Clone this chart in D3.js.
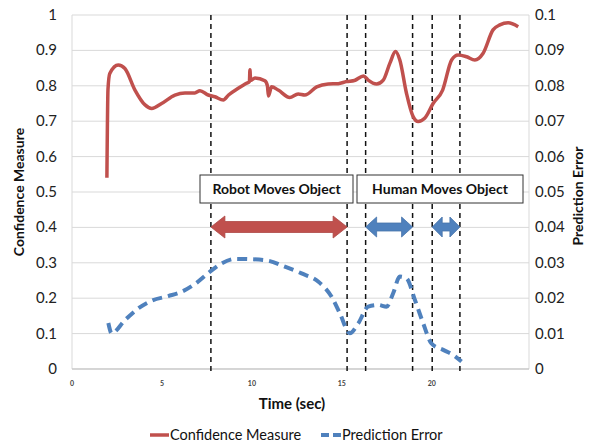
<!DOCTYPE html>
<html><head><meta charset="utf-8">
<script src="https://cdn.jsdelivr.net/npm/d3@7"></script>
<style>body{margin:0;background:#fff}svg{display:block;font-family:Lato,"Open Sans",sans-serif}</style>
</head><body><svg id="c" width="595" height="446"></svg>
<script>
// Confidence Measure (left axis)
const confT = [1.94,2.0,2.1,2.57,2.94,3.5,4.06,4.43,4.98,5.72,6.28,6.83,7.11,7.57,7.94,8.41,8.7,9.24,9.7,9.86,9.89,9.93,10.17,10.72,10.86,10.92,11.09,11.46,12.1,12.57,12.94,13.6,14.24,14.8,15.26,15.7,16.2,16.46,16.93,17.3,17.67,17.98,18.22,18.59,18.96,19.24,19.6,20.07,20.6,21.1,21.46,21.93,22.39,22.85,23.4,23.78,24.24,24.8];
const confV = [0.54,0.79,0.835,0.859,0.849,0.788,0.746,0.736,0.75,0.774,0.78,0.78,0.786,0.774,0.769,0.76,0.774,0.793,0.807,0.812,0.845,0.815,0.822,0.814,0.80,0.771,0.797,0.788,0.767,0.777,0.774,0.797,0.805,0.806,0.812,0.815,0.828,0.816,0.805,0.816,0.864,0.897,0.873,0.779,0.713,0.699,0.708,0.75,0.788,0.873,0.887,0.882,0.873,0.892,0.958,0.972,0.978,0.967];
// Prediction Error (right axis)
const errT = [2.02,2.2,2.94,3.68,4.43,5.35,6.09,6.83,7.67,8.31,9.06,9.98,10.9,11.83,12.76,13.68,14.43,14.89,15.44,15.91,16.46,17.02,17.48,17.85,18.22,18.59,19.06,19.52,19.98,20.63,21.18,21.65];
const errV = [0.013,0.0101,0.0138,0.0171,0.0193,0.0206,0.0218,0.024,0.0275,0.0298,0.0311,0.031,0.0306,0.0289,0.027,0.0247,0.0204,0.0157,0.0101,0.0129,0.0176,0.0181,0.0176,0.0214,0.0261,0.0256,0.0195,0.0129,0.0072,0.0054,0.004,0.0021];
// Event markers (sec)
const eventT = [7.72,15.29,16.32,18.93,20.02,21.56];
const leftTicks = [0,0.1,0.2,0.3,0.4,0.5,0.6,0.7,0.8,0.9,1];
const rightTicks = [0,0.01,0.02,0.03,0.04,0.05,0.06,0.07,0.08,0.09,0.1];
const xTicks = [0,5,10,15,20];
const phaseLabels = ["Robot Moves Object","Human Moves Object"];
const seriesNames = ["Confidence Measure","Prediction Error"];

const RED="#c0504d", BLUE="#4f81bd";
const svg=d3.select("#c");
const L=72,R=529,T=15,B=369;
const x=d3.scaleLinear().domain([0,25.4]).range([L,R]);
const yL=d3.scaleLinear().domain([0,1]).range([B,T]);
const yR=d3.scaleLinear().domain([0,0.1]).range([B,T]);

// gridlines
svg.append("g").selectAll("line").data(leftTicks).join("line")
 .attr("x1",L).attr("x2",R).attr("y1",d=>yL(d)).attr("y2",d=>yL(d))
 .attr("stroke","#d9d9d9").attr("stroke-width",1);
// axis lines
svg.append("line").attr("x1",L).attr("x2",L).attr("y1",T).attr("y2",B).attr("stroke","#d9d9d9");
svg.append("line").attr("x1",R).attr("x2",R).attr("y1",T).attr("y2",B).attr("stroke","#d9d9d9");
svg.append("line").attr("x1",L).attr("x2",R).attr("y1",B).attr("y2",B).attr("stroke","#bfbfbf");

// tick labels
const fmt=d=>d===0?"0":(d===1?"1":String(+d.toFixed(2)));
svg.append("g").selectAll("text").data(leftTicks).join("text")
 .attr("x",57).attr("y",d=>yL(d)+5).attr("text-anchor","end")
 .attr("font-size",15).attr("fill","#222").text(fmt);
svg.append("g").selectAll("text").data(rightTicks).join("text")
 .attr("x",535).attr("y",d=>yR(d)+5).attr("text-anchor","start")
 .attr("font-size",15).attr("fill","#222").text(fmt);
svg.append("g").selectAll("text").data(xTicks).join("text")
 .attr("x",d=>x(d)).attr("y",386).attr("text-anchor","middle")
 .attr("font-size",7).attr("font-weight","bold").attr("fill","#444").text(d=>d);

// axis titles
svg.append("text").attr("transform","translate(24,192) rotate(-90)").attr("text-anchor","middle")
 .attr("font-size",14).attr("font-weight","bold").attr("fill","#111").text(seriesNames[0]);
svg.append("text").attr("transform","translate(583,196) rotate(-90)").attr("text-anchor","middle")
 .attr("font-size",14).attr("font-weight","bold").attr("fill","#111").text(seriesNames[1]);
svg.append("text").attr("x",292).attr("y",409).attr("text-anchor","middle")
 .attr("font-size",15).attr("font-weight","bold").attr("fill","#111").text("Time (sec)");

// event dashed lines
svg.append("g").selectAll("line").data(eventT).join("line")
 .attr("x1",d=>x(d)).attr("x2",d=>x(d)).attr("y1",T).attr("y2",B+3)
 .attr("stroke","#111").attr("stroke-width",1.5).attr("stroke-dasharray","5,4");

// phase label boxes
const boxes=[{x0:200,x1:353,label:phaseLabels[0]},{x0:357,x1:523,label:phaseLabels[1]}];
boxes.forEach(b=>{
  svg.append("rect").attr("x",b.x0).attr("y",175).attr("width",b.x1-b.x0).attr("height",28)
   .attr("fill","#fff").attr("stroke","#333").attr("stroke-width",1);
  svg.append("text").attr("x",(b.x0+b.x1)/2).attr("y",194).attr("text-anchor","middle")
   .attr("font-size",14).attr("font-weight","bold").attr("fill","#111").text(b.label);
});

// double arrows
function dblArrow(t0,t1,cy,body,head,hl,color){
  const a=x(t0),b=x(t1),h=body/2,H=head/2;
  const p=[[a,cy],[a+hl,cy-H],[a+hl,cy-h],[b-hl,cy-h],[b-hl,cy-H],[b,cy],[b-hl,cy+H],[b-hl,cy+h],[a+hl,cy+h],[a+hl,cy+H]];
  svg.append("path").attr("d","M"+p.map(q=>q.join(",")).join("L")+"Z").attr("fill",color)
   .attr("stroke",d3.color(color).darker(0.3)).attr("stroke-width",0.8);
}
dblArrow(eventT[0],eventT[1],227,11,22,14,RED);
dblArrow(eventT[2],eventT[3],227,8,20,11,BLUE);
dblArrow(eventT[4],eventT[5],227,8,20,10,BLUE);

// series
const confData=confT.map((t,i)=>[t,confV[i]]);
const errData=errT.map((t,i)=>[t,errV[i]]);
svg.append("path").datum(confData)
 .attr("d",d3.line().x(d=>x(d[0])).y(d=>yL(d[1])).curve(d3.curveMonotoneX))
 .attr("fill","none").attr("stroke",RED).attr("stroke-width",3.5).attr("stroke-linejoin","round");
svg.append("path").datum(errData)
 .attr("d",d3.line().x(d=>x(d[0])).y(d=>yR(d[1])).curve(d3.curveMonotoneX))
 .attr("fill","none").attr("stroke",BLUE).attr("stroke-width",4).attr("stroke-dasharray","10,6");

// legend
const lg=svg.append("g");
lg.append("line").attr("x1",150).attr("x2",169).attr("y1",435).attr("y2",435).attr("stroke",RED).attr("stroke-width",3.5);
lg.append("text").attr("x",170).attr("y",440).attr("font-size",14.5).attr("fill","#111").text(seriesNames[0]);
lg.append("line").attr("x1",321).attr("x2",341).attr("y1",435).attr("y2",435).attr("stroke",BLUE).attr("stroke-width",4).attr("stroke-dasharray","8,4");
lg.append("text").attr("x",342).attr("y",440).attr("font-size",14.5).attr("fill","#111").text(seriesNames[1]);
</script></body></html>
